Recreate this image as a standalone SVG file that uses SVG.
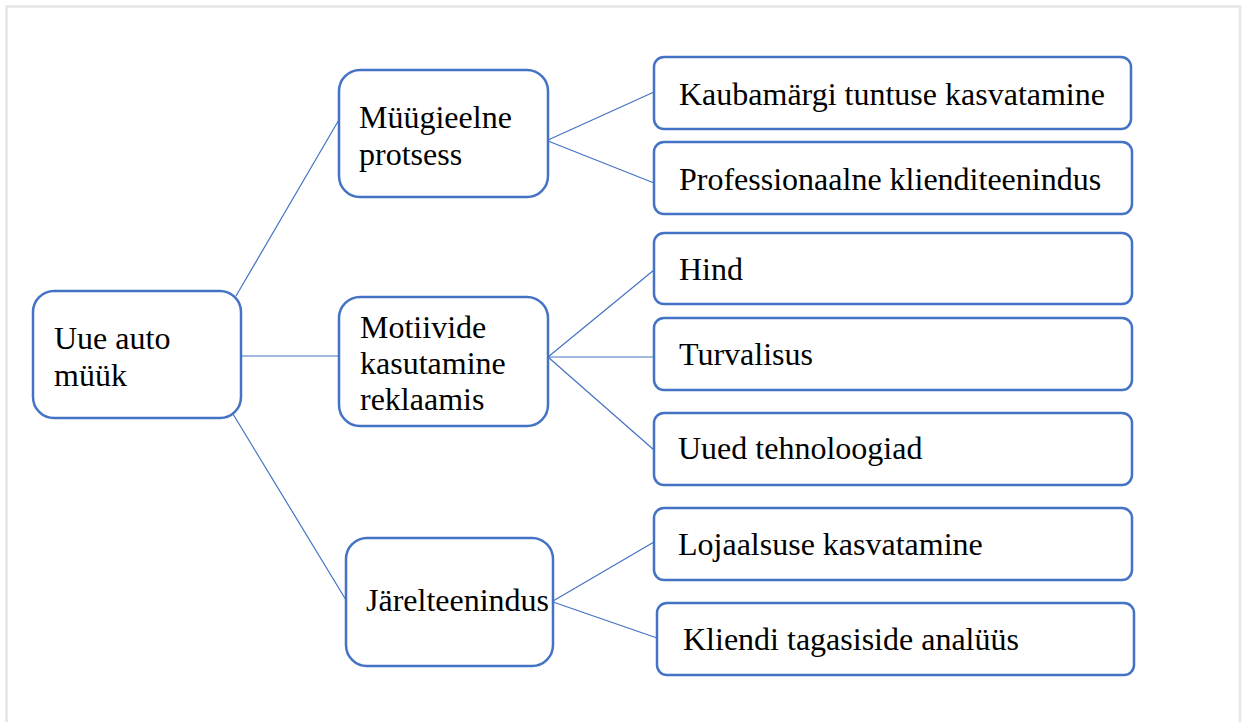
<svg xmlns="http://www.w3.org/2000/svg" width="1244" height="722" viewBox="0 0 1244 722">
<style>
.frame{fill:none;stroke:#e6e6e6;stroke-width:2.5}
.box{fill:#fff;stroke:#4472c4;stroke-width:2.5}
.conn line{stroke:#4472c4;stroke-width:1.2;fill:none}
text{font-family:"Liberation Serif","Times New Roman",serif;font-size:32px;fill:#000}
</style>
<rect x="0" y="0" width="1244" height="722" fill="#fff"/>
<path class="frame" d="M6.5,740 V6.5 H1240 V740"/>
<g id="connectors" class="conn">
<line x1="236" y1="296" x2="340" y2="118"/>
<line x1="240" y1="356" x2="340" y2="356"/>
<line x1="233" y1="414" x2="346" y2="600"/>
<line x1="548" y1="140" x2="654" y2="92"/>
<line x1="548" y1="141" x2="654" y2="183"/>
<line x1="548" y1="357" x2="654" y2="270"/>
<line x1="548" y1="357" x2="654" y2="357"/>
<line x1="548" y1="357" x2="654" y2="450"/>
<line x1="553" y1="601" x2="654" y2="542"/>
<line x1="553" y1="602" x2="657" y2="638"/>
</g>
<g id="root">
<rect class="box" x="33" y="291" width="208" height="127" rx="21"/>
<text x="54" y="349">Uue auto</text>
<text x="54" y="386">müük</text>
</g>
<g id="muugieelne">
<rect class="box" x="339" y="70" width="209" height="127" rx="21"/>
<text x="359" y="128">Müügieelne</text>
<text x="359" y="165">protsess</text>
</g>
<g id="motiivide">
<rect class="box" x="339" y="297" width="209" height="129" rx="21"/>
<text x="360" y="338">Motiivide</text>
<text x="360" y="374">kasutamine</text>
<text x="360" y="410">reklaamis</text>
</g>
<g id="jarelteenindus">
<rect class="box" x="346" y="538" width="207" height="128" rx="21"/>
<text x="366" y="611">Järelteenindus</text>
</g>
<g id="kaubamargi">
<rect class="box" x="654" y="57" width="477" height="72" rx="10"/>
<text x="679" y="105">Kaubamärgi tuntuse kasvatamine</text>
</g>
<g id="professionaalne">
<rect class="box" x="654" y="142" width="478" height="72" rx="10"/>
<text x="679" y="190">Professionaalne klienditeenindus</text>
</g>
<g id="hind">
<rect class="box" x="654" y="233" width="478" height="71" rx="10"/>
<text x="679" y="280">Hind</text>
</g>
<g id="turvalisus">
<rect class="box" x="654" y="318" width="478" height="72" rx="10"/>
<text x="679" y="365">Turvalisus</text>
</g>
<g id="uued">
<rect class="box" x="654" y="413" width="478" height="72" rx="10"/>
<text x="678" y="459">Uued tehnoloogiad</text>
</g>
<g id="lojaalsuse">
<rect class="box" x="654" y="508" width="478" height="72" rx="10"/>
<text x="678" y="555">Lojaalsuse kasvatamine</text>
</g>
<g id="kliendi">
<rect class="box" x="657" y="603" width="477" height="72" rx="10"/>
<text x="683" y="650">Kliendi tagasiside analüüs</text>
</g>
</svg>
